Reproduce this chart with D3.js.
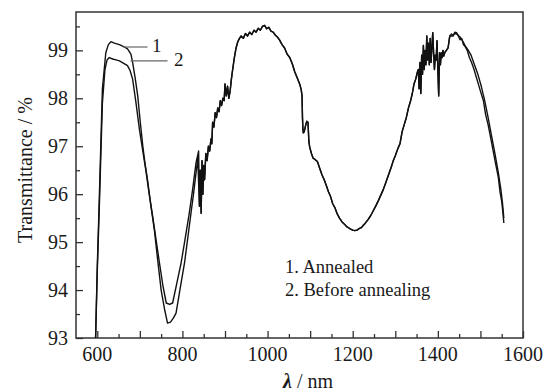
<!DOCTYPE html>
<html>
<head>
<meta charset="utf-8">
<script src="https://cdn.jsdelivr.net/npm/d3@7/dist/d3.min.js"></script>
<style>
	body { margin: 0; background: #fff; }
</style>
</head>
<body>
<div id="chart"></div>
<script>
// ***Data***
// curve 1 (annealed), 596-836 nm
var annealedHeadNm = [596, 600, 605, 612, 620, 626, 632, 640, 652, 662, 671, 679, 683, 689, 695, 701, 707, 712, 718, 726, 734, 742, 750, 758, 765, 772, 779, 785, 795, 805, 812, 820, 826, 832, 836];
var annealedHeadT  = [93.0, 94.5, 96.0, 98.2, 98.95, 99.12, 99.18, 99.15, 99.12, 99.08, 99.03, 98.92, 98.75, 98.42, 98.05, 97.5, 97.0, 96.65, 96.3, 95.75, 95.26, 94.62, 94.0, 93.6, 93.31, 93.33, 93.42, 93.52, 94.05, 94.57, 95.05, 95.6, 96.0, 96.45, 96.75];
// curve 2 (before annealing), 596-838 nm
var beforeHeadNm = [596, 600, 605, 612, 618, 623, 628, 636, 644, 652, 662, 671, 677, 683, 691, 699, 706, 714, 722, 730, 738, 746, 754, 762, 770, 777, 787, 797, 806, 816, 824, 832, 838];
var beforeHeadT  = [93.0, 94.4, 95.8, 97.9, 98.6, 98.8, 98.85, 98.82, 98.8, 98.78, 98.73, 98.68, 98.58, 98.4, 97.9, 97.35, 96.95, 96.5, 96.0, 95.54, 95.05, 94.57, 94.1, 93.73, 93.7, 93.73, 94.15, 94.57, 95.05, 95.6, 96.1, 96.66, 96.9];
// both curves lie on top of each other from 840 to 1424 nm
var sharedNm = [840, 842, 844, 846, 848, 850, 852, 855, 858, 861, 864, 867, 869, 871, 874, 877, 880, 883, 886, 889, 892, 895, 898, 900, 903, 906, 909, 912, 915, 918, 922, 926, 930, 934, 938, 943, 948, 953, 958, 963, 968, 973, 978, 983, 988, 993, 998, 1003, 1008, 1013, 1018, 1023, 1028, 1034, 1040, 1046, 1052, 1058, 1064, 1070, 1076, 1079, 1081, 1082, 1083, 1084, 1086, 1089, 1092, 1095, 1097, 1099, 1103, 1107, 1112, 1117, 1122, 1128, 1133, 1138, 1143, 1148, 1153, 1158, 1163, 1169, 1175, 1180, 1185, 1190, 1195, 1200, 1205, 1210, 1215, 1220, 1225, 1230, 1236, 1242, 1248, 1254, 1260, 1266, 1272, 1278, 1284, 1290, 1295, 1300, 1306, 1311, 1316, 1321, 1326, 1331, 1336, 1340, 1344, 1348, 1352, 1354, 1356, 1358, 1360, 1362, 1364, 1366, 1368, 1370, 1372, 1374, 1376, 1378, 1380, 1382, 1384, 1386, 1388, 1390, 1392, 1394, 1396, 1398, 1400, 1402, 1404, 1406, 1408, 1410, 1412, 1414, 1416, 1420, 1424];
var sharedT  = [95.75, 96.5, 95.6, 96.7, 96.0, 96.6, 96.3, 96.85, 96.7, 97.0, 96.9, 97.15, 97.05, 97.5, 97.4, 97.7, 97.6, 97.8, 97.72, 97.95, 97.85, 98.0, 97.95, 98.3, 98.05, 98.25, 98.0, 98.15, 98.4, 98.6, 98.85, 99.05, 99.18, 99.25, 99.3, 99.25, 99.35, 99.3, 99.38, 99.33, 99.42, 99.38, 99.46, 99.42, 99.5, 99.52, 99.45, 99.48, 99.4, 99.38, 99.32, 99.28, 99.22, 99.12, 99.05, 98.92, 98.85, 98.72, 98.55, 98.42, 98.28, 98.18, 98.05, 97.6, 97.35, 97.28, 97.3, 97.42, 97.52, 97.5, 97.1, 96.98, 96.85, 96.75, 96.72, 96.68, 96.55, 96.4, 96.3, 96.18, 96.05, 95.95, 95.8, 95.72, 95.6, 95.5, 95.42, 95.38, 95.33, 95.3, 95.27, 95.25, 95.24, 95.25, 95.28, 95.3, 95.35, 95.4, 95.47, 95.55, 95.65, 95.75, 95.86, 95.98, 96.1, 96.25, 96.4, 96.55, 96.69, 96.8, 96.95, 97.05, 97.3, 97.45, 97.6, 97.8, 97.95, 98.1, 98.3, 98.4, 98.55, 98.6, 98.2, 98.75, 98.1, 98.9, 98.5, 99.1, 98.6, 99.0, 98.7, 99.3, 98.8, 99.15, 98.7, 99.25, 98.75, 99.05, 99.37, 98.95, 98.6, 98.9, 98.8, 99.2, 98.6, 98.05, 98.95, 98.7, 98.95, 98.85, 99.0, 98.88, 98.95, 99.0, 99.05, 99.3];
// tails, 1428-1555 nm
var annealedTailNm = [1428, 1432, 1436, 1440, 1444, 1448, 1452, 1456, 1460, 1464, 1469, 1474, 1479, 1485, 1490, 1495, 1500, 1507, 1512, 1518, 1524, 1530, 1536, 1542, 1546, 1550, 1553, 1555];
var annealedTailT  = [99.34, 99.3, 99.38, 99.37, 99.3, 99.22, 99.25, 99.12, 99.08, 99.0, 98.85, 98.75, 98.6, 98.45, 98.3, 98.15, 97.95, 97.67, 97.45, 97.18, 96.9, 96.62, 96.35, 96.05, 95.85, 95.6, 95.4, 95.2];
var beforeTailNm = [1428, 1434, 1440, 1446, 1452, 1458, 1464, 1470, 1478, 1486, 1494, 1502, 1510, 1518, 1526, 1534, 1542, 1548, 1552, 1555];
var beforeTailT  = [99.3, 99.36, 99.33, 99.28, 99.2, 99.1, 99.02, 98.9, 98.7, 98.5, 98.25, 97.95, 97.6, 97.22, 96.85, 96.45, 96.1, 95.8, 95.5, 95.25];

var xTicks = [600, 800, 1000, 1200, 1400, 1600];
var yTicks = [93, 94, 95, 96, 97, 98, 99];
var legendLines = ["1. Annealed", "2. Before annealing"];
var curveLabels = ["1", "2"];

function init() {

// ***Variable declarations***
	var w = 545;
	var h = 392;
	var left = 76, right = 523, top = 12, bottom = 338;
	var serif = "'Liberation Serif'";

	var xScale = d3.scaleLinear()
				.domain([550, 1600])
				.range([left, right]);

	var yScale = d3.scaleLinear()
				.domain([93, 99.8])
				.range([bottom, top]);

	var svg = d3.select("#chart")
				.append("svg")
				.attr("width", w)
				.attr("height", h)
				.style("font-family", serif);

	function pairs(nm, t) {
		return nm.map(function(d, i) { return [d, t[i]]; });
	}
	var annealed = pairs(annealedHeadNm.concat(sharedNm, annealedTailNm), annealedHeadT.concat(sharedT, annealedTailT));
	var before = pairs(beforeHeadNm.concat(sharedNm, beforeTailNm), beforeHeadT.concat(sharedT, beforeTailT));

	var line = d3.line()
				.x(function(d) { return xScale(d[0]); })
				.y(function(d) { return yScale(d[1]); });
// ***Variable declarations***

	// minor + major ticks, pointing inward
	var xAxis = d3.axisTop(xScale)
				.tickValues(d3.range(600, 1601, 50))
				.tickSize(0)
				.tickFormat("");
	var yAxis = d3.axisRight(yScale)
				.tickValues(d3.range(93, 99.8, 0.5))
				.tickSize(0)
				.tickFormat("");

	var gx = svg.append("g")
			.attr("transform", "translate(0," + bottom + ")")
			.call(xAxis);
	gx.select(".domain").remove();
	gx.selectAll(".tick line")
		.attr("y2", function(d) { return d % 100 == 0 ? -7 : -4; })
		.attr("stroke", "#333")
		.attr("stroke-width", 1.3);

	var gy = svg.append("g")
			.attr("transform", "translate(" + left + ",0)")
			.call(yAxis);
	gy.select(".domain").remove();
	gy.selectAll(".tick line")
		.attr("x2", function(d) { return Math.abs(d % 1) < 0.01 ? 7 : 4; })
		.attr("stroke", "#333")
		.attr("stroke-width", 1.3);

	svg.selectAll("text.xlab")
		.data(xTicks)
		.enter()
		.append("text")
		.attr("class", "xlab")
		.attr("x", function(d) { return xScale(d); })
		.attr("y", 361)
		.attr("text-anchor", "middle")
		.style("font-family", serif)
		.style("font-size", "20px")
		.attr("fill", "#1a1a1a")
		.text(function(d) { return d; });

	svg.selectAll("text.ylab")
		.data(yTicks)
		.enter()
		.append("text")
		.attr("class", "ylab")
		.attr("x", 68)
		.attr("y", function(d) { return yScale(d) + 7; })
		.attr("text-anchor", "end")
		.style("font-family", serif)
		.style("font-size", "20px")
		.attr("fill", "#1a1a1a")
		.text(function(d) { return d; });

	// frame
	svg.append("rect")
		.attr("x", left)
		.attr("y", top)
		.attr("width", right - left)
		.attr("height", bottom - top)
		.attr("fill", "none")
		.attr("stroke", "#333")
		.attr("stroke-width", 1.5);

	svg.selectAll("path.curve")
		.data([before, annealed])
		.enter()
		.append("path")
		.attr("class", "curve")
		.attr("d", line)
		.attr("fill", "none")
		.attr("stroke", "#111")
		.attr("stroke-width", 1.4)
		.attr("stroke-linejoin", "round");

	// leader lines for curve numbers: [from nm, to nm, level]
	var leaders = [[660, 718, 99.07], [678, 765, 98.78]];
	svg.selectAll("line.leader")
		.data(leaders)
		.enter()
		.append("line")
		.attr("class", "leader")
		.attr("x1", function(d) { return xScale(d[0]); })
		.attr("x2", function(d) { return xScale(d[1]); })
		.attr("y1", function(d) { return yScale(d[2]); })
		.attr("y2", function(d) { return yScale(d[2]); })
		.attr("stroke", "#666")
		.attr("stroke-width", 1.2);

	svg.selectAll("text.clab")
		.data(curveLabels)
		.enter()
		.append("text")
		.attr("class", "clab")
		.attr("x", function(d, i) { return i == 0 ? 152 : 174; })
		.attr("y", function(d, i) { return i == 0 ? 52 : 66; })
		.style("font-family", serif)
		.style("font-size", "19px")
		.attr("fill", "#1a1a1a")
		.text(function(d) { return d; });

	svg.selectAll("text.legend")
		.data(legendLines)
		.enter()
		.append("text")
		.attr("class", "legend")
		.attr("x", 285)
		.attr("y", function(d, i) { return 273 + i * 23; })
		.style("font-family", serif)
		.style("font-size", "18.5px")
		.attr("fill", "#1a1a1a")
		.text(function(d) { return d; });

	// axis titles
	svg.append("text")
		.attr("transform", "translate(32,170) rotate(-90)")
		.attr("text-anchor", "middle")
		.style("font-family", serif)
		.style("font-size", "20px")
		.attr("fill", "#1a1a1a")
		.text("Transmittance / %");

	var xt = svg.append("text")
		.attr("x", 308)
		.attr("y", 388)
		.attr("text-anchor", "middle")
		.style("font-family", serif)
		.style("font-size", "20px")
		.attr("fill", "#1a1a1a");
	xt.append("tspan")
		.style("font-style", "italic")
		.style("font-weight", "bold")
		.text("λ");
	xt.append("tspan").text(" / nm");
}

window.onload = init;
</script>
</body>
</html>
